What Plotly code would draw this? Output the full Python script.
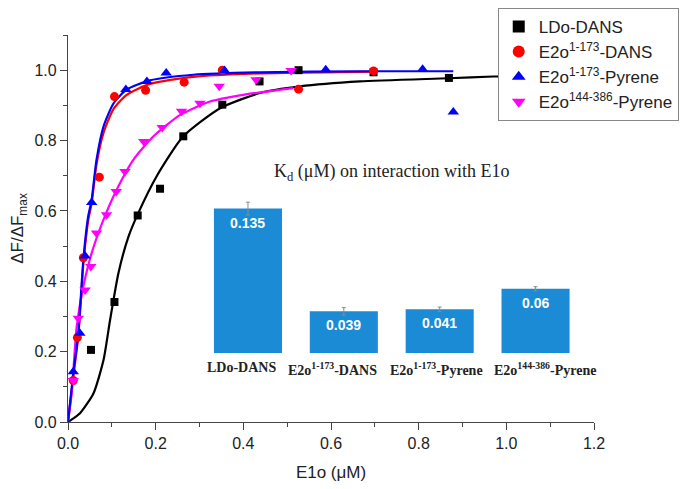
import plotly.graph_objects as go

# ---------------- data ----------------
ldo_x = [0.0525, 0.106, 0.159, 0.210, 0.263, 0.352, 0.437, 0.526, 0.697, 0.869]
ldo_y = [0.205, 0.341, 0.587, 0.663, 0.812, 0.902, 0.968, 1.000, 0.994, 0.978]

e2d_x = [0.012, 0.0213, 0.035, 0.0715, 0.106, 0.177, 0.265, 0.352, 0.526, 0.697]
e2d_y = [0.118, 0.240, 0.467, 0.696, 0.925, 0.943, 0.966, 1.000, 0.946, 0.998]

e2p_x = [0.012, 0.027, 0.039, 0.054, 0.132, 0.180, 0.224, 0.357, 0.588, 0.809, 0.879]
e2p_y = [0.143, 0.252, 0.472, 0.624, 0.945, 0.968, 0.992, 0.999, 1.001, 1.003, 0.881]

e2l_x = [0.012, 0.0235, 0.039, 0.052, 0.065, 0.088, 0.110, 0.130, 0.173, 0.215, 0.259, 0.301, 0.345, 0.429, 0.509]
e2l_y = [0.118, 0.295, 0.375, 0.442, 0.537, 0.589, 0.655, 0.712, 0.797, 0.837, 0.883, 0.906, 0.954, 0.973, 0.999]

# fitted curves
fit_ldo_x = [0.0, 0.0274, 0.058, 0.081, 0.096, 0.115, 0.138, 0.160, 0.202, 0.263, 0.347, 0.438, 0.529, 0.666, 0.868, 0.970, 1.2]
fit_ldo_y = [0.0, 0.025, 0.081, 0.176, 0.290, 0.423, 0.527, 0.593, 0.698, 0.812, 0.892, 0.935, 0.954, 0.968, 0.977, 0.982, 0.986]

fit_e2d_x = [0.0, 0.012, 0.0235, 0.035, 0.046, 0.054, 0.065, 0.081, 0.104, 0.134, 0.187, 0.286, 0.438, 0.70]
fit_e2d_y = [0.0, 0.128, 0.243, 0.448, 0.572, 0.622, 0.732, 0.822, 0.890, 0.930, 0.961, 0.981, 0.991, 0.996]

fit_e2p_x = [0.0, 0.012, 0.0235, 0.035, 0.046, 0.054, 0.065, 0.081, 0.104, 0.134, 0.187, 0.286, 0.438, 0.666, 0.879]
fit_e2p_y = [0.0, 0.138, 0.252, 0.461, 0.584, 0.632, 0.745, 0.840, 0.906, 0.945, 0.971, 0.987, 0.994, 0.997, 0.997]

fit_e2l_x = [0.0, 0.0084, 0.0198, 0.035, 0.054, 0.081, 0.111, 0.149, 0.195, 0.256, 0.324, 0.400, 0.514]
fit_e2l_y = [0.0, 0.081, 0.271, 0.385, 0.480, 0.575, 0.660, 0.745, 0.812, 0.873, 0.911, 0.930, 0.949]

# inset bar chart: Kd (uM)
kd_categories = ["LDo-DANS", "E2o1-173-DANS", "E2o1-173-Pyrene", "E2o144-386-Pyrene"]
kd_labels = ["<b>LDo-DANS</b>", "<b>E2o<sup>1-173</sup>-DANS</b>",
             "<b>E2o<sup>1-173</sup>-Pyrene</b>", "<b>E2o<sup>144-386</sup>-Pyrene</b>"]
kd_values = [0.135, 0.039, 0.041, 0.06]
kd_errors = [0.006, 0.0035, 0.002, 0.002]
kd_text = ["0.135", "0.039", "0.041", "0.06"]

series_names = ["LDo-DANS", "E2o<sup>1-173</sup>-DANS", "E2o<sup>1-173</sup>-Pyrene",
                "E2o<sup>144-386</sup>-Pyrene"]

# label nudges (px) for the inset category labels
label_shift = [-6, -11, -3, 9]

# ---------------- figure ----------------
SANS = "Arial, Liberation Sans, sans-serif"
SERIF = "Times New Roman, Liberation Serif, serif"

fig = go.Figure()

curves = [(fit_ldo_x, fit_ldo_y, "black"), (fit_e2d_x, fit_e2d_y, "#ff0000"),
          (fit_e2l_x, fit_e2l_y, "#ff00ff"), (fit_e2p_x, fit_e2p_y, "#0000ff")]
for cx, cy, col in curves:
    fig.add_trace(go.Scatter(x=cx, y=cy, mode="lines", line=dict(color=col, width=2.2, shape="spline", smoothing=0.6),
                             showlegend=False, hoverinfo="skip", cliponaxis=False))

pts = [(ldo_x, ldo_y, "black", "square", 8, series_names[0]),
       (e2d_x, e2d_y, "#ff0000", "circle", 9, series_names[1]),
       (e2p_x, e2p_y, "#0000ff", "triangle-up", 10, series_names[2]),
       (e2l_x, e2l_y, "#ff00ff", "triangle-down", 10, series_names[3])]
for px, py, col, sym, sz, nm in pts:
    fig.add_trace(go.Scatter(x=px, y=py, mode="markers", name=nm,
                             marker=dict(color=col, symbol=sym, size=sz, line=dict(width=0)),
                             cliponaxis=False))

fig.add_trace(go.Bar(x=kd_categories, y=kd_values, xaxis="x2", yaxis="y2", showlegend=False,
                     marker=dict(color="#1a8bd4", line=dict(width=0)),
                     error_y=dict(type="data", array=kd_errors, color="#8a8a8a", thickness=1, width=2),
                     hoverinfo="skip"))

for cat, lab, val, txt, dx in zip(kd_categories, kd_labels, kd_values, kd_text, label_shift):
    fig.add_annotation(x=cat, y=val, xref="x2", yref="y2", text=txt, showarrow=False,
                       yanchor="middle", yshift=-14,
                       font=dict(family=SANS, size=14, color="white", weight="bold"))
    fig.add_annotation(x=cat, y=0, xref="x2", yref="y2", text=lab, showarrow=False,
                       yanchor="top", yshift=-5, xshift=dx,
                       font=dict(family=SERIF, size=14, color="#222"))

fig.add_annotation(text="K<sub>d</sub> (μM) on interaction with E1o", xref="paper", yref="paper",
                   x=0.615, y=0.68, showarrow=False, font=dict(family=SERIF, size=18, color="#222"))

axis_common = dict(showline=True, linecolor="#444", linewidth=1.3, ticks="outside", ticklen=7,
                   tickcolor="#444", tickwidth=1.3, showgrid=False, zeroline=False,
                   tickfont=dict(family=SANS, size=16, color="#222"), tickformat=".1f")

# page body has an 8px margin: figure is 685x481 so it fits the 693x489 window
fig.update_layout(
    width=685, height=481,
    margin=dict(l=60, r=99, t=27, b=67, autoexpand=False),
    plot_bgcolor="white", paper_bgcolor="white",
    xaxis=dict(range=[0, 1.2], dtick=0.2, tick0=0,
               minor=dict(dtick=0.1, ticklen=4, tickcolor="#444", ticks="outside"),
               title=dict(text="E1o (μM)", font=dict(family=SANS, size=17, color="#222"), standoff=14),
               **axis_common),
    yaxis=dict(range=[0, 1.1], dtick=0.2, tick0=0,
               minor=dict(dtick=0.1, ticklen=4, tickcolor="#444", ticks="outside"),
               title=dict(text="ΔF/ΔF<sub>max</sub>", font=dict(family=SANS, size=17, color="#222"), standoff=8),
               **axis_common),
    xaxis2=dict(domain=[0.251, 0.980], anchor="y2", range=[-0.5, 3.5], showline=False, showgrid=False,
                zeroline=False, ticks="", showticklabels=False, fixedrange=True),
    yaxis2=dict(domain=[0.178, 0.593], anchor="x2", range=[0, 0.15], visible=False, fixedrange=True),
    bargap=0.29,
    legend=dict(x=0.817, y=1.07, xanchor="left", yanchor="top", bgcolor="white",
                bordercolor="#888", borderwidth=1, font=dict(family=SANS, size=17, color="#222"),
                itemsizing="constant", tracegroupgap=0),
    showlegend=True,
)

fig.write_html("out.html")
